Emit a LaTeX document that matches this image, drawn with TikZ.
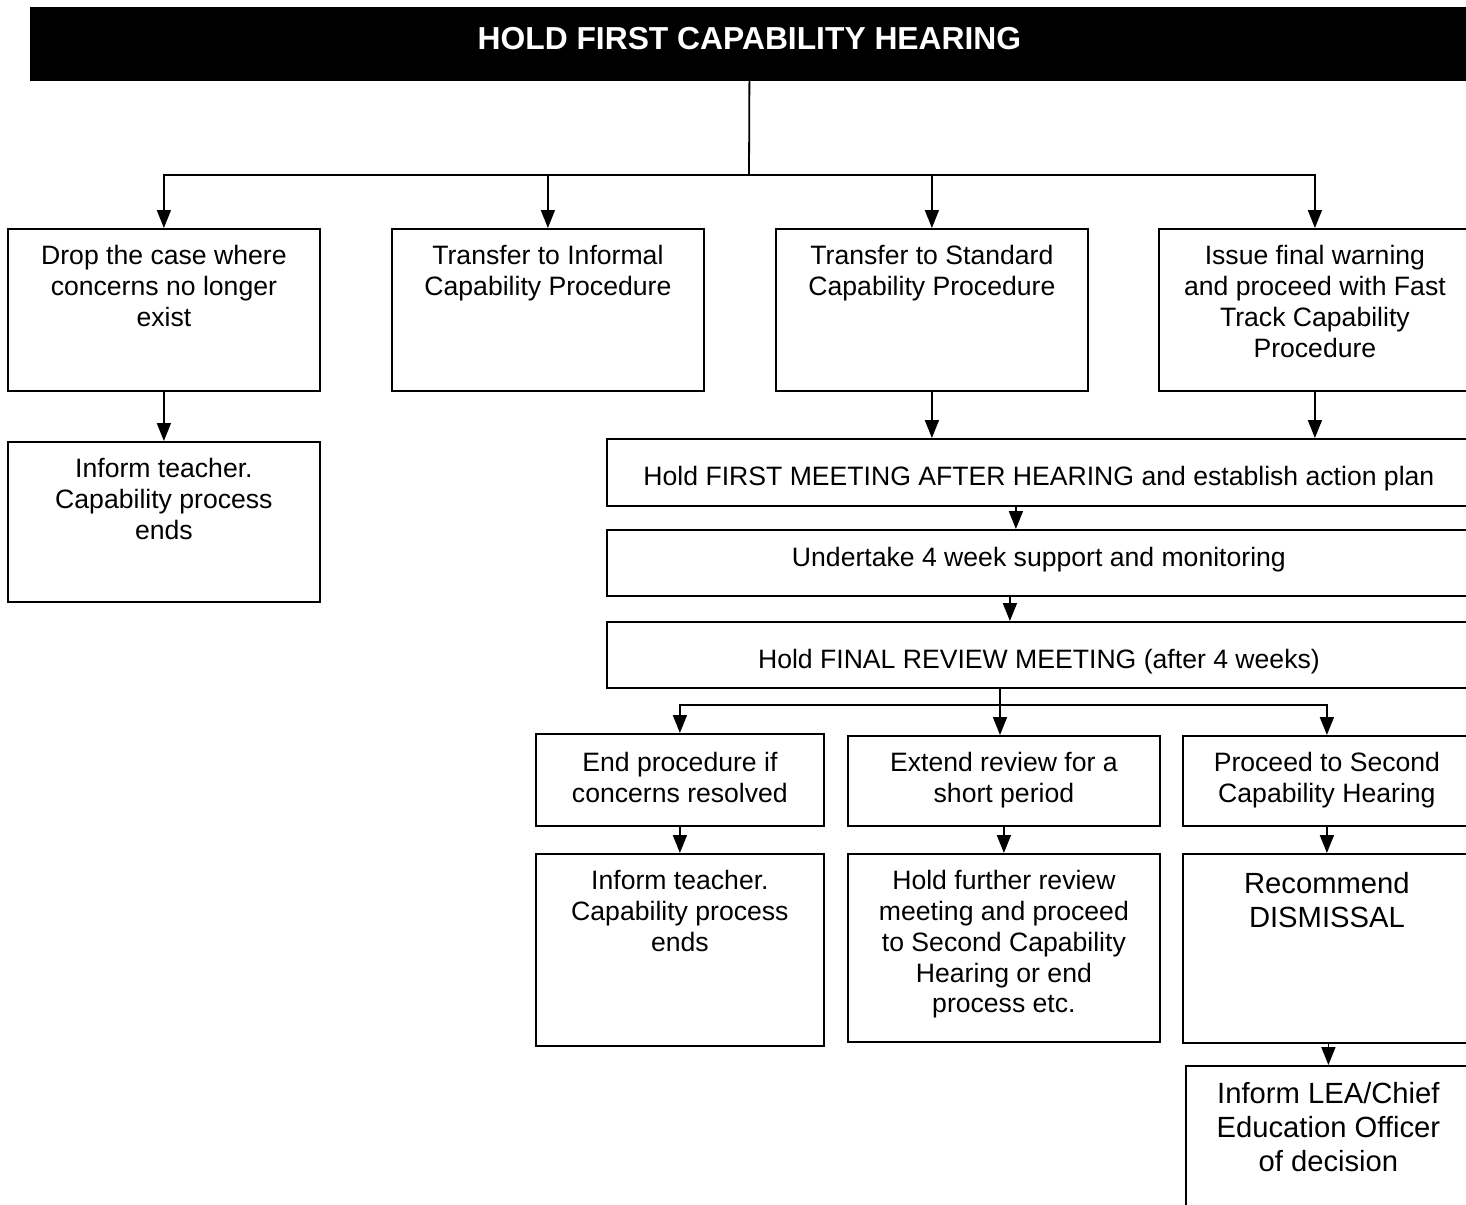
\documentclass[tikz,border=0pt]{standalone}
\usepackage{fontspec}
\setmainfont{Liberation Sans}
\usetikzlibrary{arrows.meta}

% text of a box, set at the top: [first baseline]{width}{height}{text}
\newcommand{\boxtext}[4][18pt]{\parbox[t][#3][t]{#2}{\centering\rule{0pt}{#1}#4}}

\begin{document}
\begin{tikzpicture}[x=0.5pt, y=-0.5pt,
    flowbox/.style = {draw, line width=0.9pt, inner sep=0pt, anchor=north west,
                      font=\fontsize{13.3pt}{15.35pt}\selectfont},
    bigbox/.style = {flowbox, font=\fontsize{14.6pt}{17pt}\selectfont},
    titlebar/.style = {fill=black, draw=black, inner sep=0pt, anchor=north west,
                       text=white, font=\fontsize{15.9pt}{18pt}\selectfont\bfseries},
    arr/.style = {-{Triangle[length=9pt,width=7pt]}, line width=0.9pt}]
    \useasboundingbox (0,0) rectangle (1466,1204);
    \clip (0,0) rectangle (1466,1204);

    % heading
    \node[titlebar] (title) at (30,7) {\boxtext[21.2pt]{719pt}{36.5pt}{HOLD FIRST CAPABILITY HEARING}};

    % first choices
    \node[flowbox] (drop) at (7,228) {\boxtext{156pt}{81pt}{Drop the case where\\ concerns no longer\\ exist}};
    \node[flowbox] (informal) at (391,228) {\boxtext{156pt}{81pt}{Transfer to Informal\\ Capability Procedure}};
    \node[flowbox] (standard) at (775,228) {\boxtext{156pt}{81pt}{Transfer to Standard\\ Capability Procedure}};
    \node[flowbox] (fast) at (1158,228) {\boxtext{156pt}{81pt}{Issue final warning\\ and proceed with Fast\\ Track Capability\\ Procedure}};
    \node[flowbox] (inform1) at (7,441) {\boxtext{156pt}{80pt}{Inform teacher.\\ Capability process\\ ends}};

    % meetings
    \node[flowbox] (meeting) at (606,438) {\boxtext[23.3pt]{432pt}{33.5pt}{Hold FIRST MEETING AFTER HEARING and establish action plan}};
    \node[flowbox] (support) at (606,529) {\boxtext[18.3pt]{432pt}{33pt}{Undertake 4 week support and monitoring}};
    \node[flowbox] (review) at (606,621) {\boxtext[23.3pt]{432pt}{33pt}{Hold FINAL REVIEW MEETING (after 4 weeks)}};

    % outcomes of the review
    \node[flowbox] (endproc) at (535,733) {\boxtext[18.8pt]{144pt}{46pt}{End procedure if\\ concerns resolved}};
    \node[flowbox] (extend) at (847,735) {\boxtext{156pt}{45pt}{Extend review for a\\ short period}};
    \node[flowbox] (proceed) at (1182,735) {\boxtext{144pt}{45pt}{Proceed to Second\\ Capability Hearing}};
    \node[flowbox] (inform2) at (535,853) {\boxtext{144pt}{96pt}{Inform teacher.\\ Capability process\\ ends}};
    \node[flowbox] (further) at (847,853) {\boxtext{156pt}{94pt}{Hold further review\\ meeting and proceed\\ to Second Capability\\ Hearing or end\\ process etc.}};
    \node[bigbox] (dismiss) at (1182,853) {\boxtext[19.7pt]{144pt}{94.5pt}{Recommend\\ DISMISSAL}};
    \node[bigbox] (lea) at (1185,1065) {\boxtext[18.7pt]{142.5pt}{100pt}{Inform LEA/Chief\\ Education Officer\\ of decision}};

    % connectors
    \coordinate (split1) at (749,175);
    \coordinate (split2) at (1000,705);
    \draw[line width=0.9pt] (title.south) -- (split1);
    \draw[arr] (split1) -| (drop.north);
    \draw[arr] (split1) -| (informal.north);
    \draw[arr] (split1) -| (standard.north);
    \draw[arr] (split1) -| (fast.north);
    \draw[arr] (drop) -- (inform1);
    \draw[arr] (standard.south) -- (standard.south |- meeting.north);
    \draw[arr] (fast.south) -- (fast.south |- meeting.north);
    \draw[arr] ([xshift=-11.5pt]meeting.south) -- ([xshift=-11.5pt]support.north);
    \draw[arr] ([xshift=-14.5pt]support.south) -- ([xshift=-14.5pt]review.north);
    \draw[line width=0.9pt] (review.south -| split2) -- (split2);
    \draw[arr] (split2) -| (endproc.north);
    \draw[arr] (split2) -- (split2 |- extend.north);
    \draw[arr] (split2) -| (proceed.north);
    \draw[arr] (endproc) -- (inform2);
    \draw[arr] (extend) -- (further);
    \draw[arr] (proceed) -- (dismiss);
    \draw[arr] (dismiss.south -| lea.north) -- (lea.north);
\end{tikzpicture}
\end{document}
